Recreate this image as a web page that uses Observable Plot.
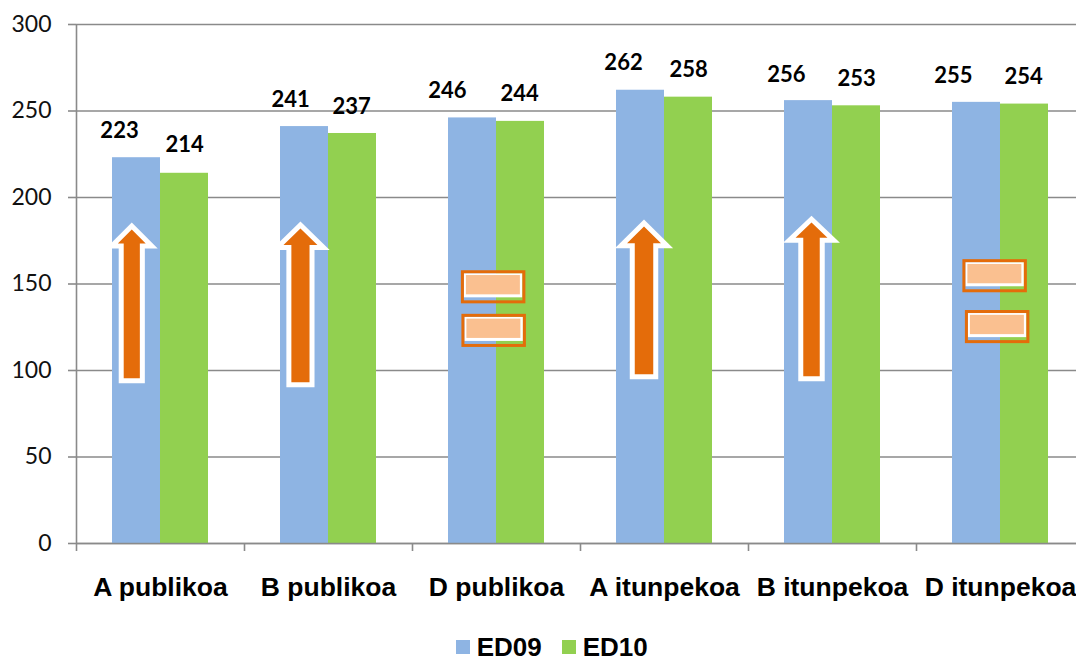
<!DOCTYPE html>
<html>
<head>
<meta charset="utf-8">
<script src="https://cdn.jsdelivr.net/npm/d3@7"></script>
<script src="https://cdn.jsdelivr.net/npm/@observablehq/plot@0.6"></script>
<style>
html,body{margin:0;padding:0;background:#fff;overflow:hidden}
#legend{position:relative;height:35px;font:bold 26px/20px "Liberation Sans",Arial,sans-serif;color:#000;white-space:nowrap}
#legend i{position:absolute;top:15.2px;width:14px;height:14px}
#legend span{position:absolute;top:12px}
</style>
</head>
<body>
<div id="chart"></div>
<div id="legend"></div>
<script>
const categories = ["A publikoa","B publikoa","D publikoa","A itunpekoa","B itunpekoa","D itunpekoa"];
const ed09 = [223,241,246,262,256,255];
const ed10 = [214,237,244,258,253,254];
const yTicks = [0,50,100,150,200,250,300];

// hand-placed value labels, in axis units
const labelX09 = [0.256,1.274,2.208,3.256,4.226,5.220];
const labelY09 = [238.7,256.1,261.3,278.0,271.1,270.5];
const labelX10 = [0.643,1.637,2.637,3.643,4.643,5.637];
const labelY10 = [230.1,252.6,260.1,274.0,268.8,269.9];

// up arrows, in axis units
const arrowX = [0.329,1.333,3.378,4.375];
const arrowBase = [95.5,93.2,97.8,96.7];
const arrowNeck = [173.4,172.5,173.5,176.7];
const arrowTip = [181.5,182.1,183.2,185.5];
const arrowShaft = [0.048,0.054,0.055,0.049];
const arrowHead = [0.083,0.101,0.101,0.095];

// "equal" signs, in axis units
const equalX = [2.483,2.486,5.468,5.483];
const equalY = [148.1,122.9,154.5,125.1];
const equalW = 0.183, equalH = 8.7;

const blue = "#8EB4E3", green = "#92D050", orange = "#E46C0A", peach = "#FAC090", grey = "#8A8A8A";
const axisFont = "Lato, Carlito, sans-serif", catFont = "'Liberation Sans', Arial, sans-serif";

const bars09 = categories.map((c,i)=>({x1:i+0.2143,x2:i+0.5,v:ed09[i]}));
const bars10 = categories.map((c,i)=>({x1:i+0.5,x2:i+0.7857,v:ed10[i]}));
const labels = [
  ...ed09.map((v,i)=>({x:labelX09[i],y:labelY09[i],v})),
  ...ed10.map((v,i)=>({x:labelX10[i],y:labelY10[i],v}))
];
const arrowRows = arrowX.flatMap((cx,i)=>{
  const s=arrowShaft[i],h=arrowHead[i],b=arrowBase[i],n=arrowNeck[i],t=arrowTip[i];
  return [[cx,b],[cx+s,b],[cx+s,n],[cx+h,n],[cx,t],[cx-h,n],[cx-s,n],[cx-s,b],[cx,b]]
    .map(([x,y])=>({id:i,x,y}));
});
const equals = equalX.map((x,i)=>({x1:x-equalW,x2:x+equalW,y1:equalY[i]-equalH,y2:equalY[i]+equalH}));

const plot = Plot.plot({
  width:1076,height:625,
  marginLeft:76,marginRight:0,marginTop:24,marginBottom:82,
  style:{background:"#fff",overflow:"hidden"},
  x:{type:"linear",domain:[0,6],range:[76,1084]},
  y:{domain:[0,300],range:[543,24]},
  marks:[
    Plot.ruleY(yTicks,{x1:0,x2:6,stroke:grey,strokeWidth:1.6}),
    Plot.rect(bars09,{x1:"x1",x2:"x2",y1:0,y2:"v",fill:blue}),
    Plot.rect(bars10,{x1:"x1",x2:"x2",y1:0,y2:"v",fill:green}),
    Plot.ruleX([0],{y1:0,y2:300,stroke:grey,strokeWidth:1.6}),
    Plot.ruleY([0],{x1:0,x2:6,stroke:grey,strokeWidth:1.6}),
    Plot.axisY({ticks:yTicks,tickSize:8,tickPadding:17,stroke:grey,fill:"#111",strokeWidth:1.6,
      fontFamily:axisFont,fontSize:23,label:null,tickFormat:d=>String(d)}),
    Plot.axisX({ticks:d3.range(0,7),tickSize:8,tickFormat:()=>"",stroke:grey,strokeWidth:1.6,label:null}),
    Plot.text(categories,{x:(d,i)=>i+0.5,y:-25.5,text:d=>d,fontFamily:catFont,fontWeight:"bold",fontSize:26.5,
      fill:"#000",clip:false}),
    Plot.line(arrowRows,{x:"x",y:"y",z:"id",fill:orange,stroke:"#fff",strokeWidth:10,paintOrder:"stroke",
      strokeLinejoin:"miter",strokeLinecap:"butt",strokeMiterlimit:10}),
    Plot.rect(equals,{x1:"x1",x2:"x2",y1:"y1",y2:"y2",fill:"#fff",insetLeft:1.5,insetRight:1.5,insetTop:1.5,insetBottom:4.5}),
    Plot.rect(equals,{x1:"x1",x2:"x2",y1:"y1",y2:"y2",fill:peach,insetLeft:3.5,insetRight:4,insetTop:3.3,insetBottom:7.5}),
    Plot.rect(equals,{x1:"x1",x2:"x2",y1:"y1",y2:"y2",fill:"none",stroke:orange,strokeWidth:3}),
    Plot.text(labels,{x:"x",y:"y",text:d=>String(d.v),fontFamily:axisFont,fontWeight:"bold",fontSize:22,fill:"#000"})
  ]
});
document.getElementById("chart").appendChild(plot);
plot.style.display="block";

const series = [["ED09",blue,456,476.7],["ED10",green,562.3,582.7]];
const lg = document.getElementById("legend");
for (const [name,color,sx,tx] of series){
  const i=document.createElement("i");i.style.left=sx+"px";i.style.background=color;lg.appendChild(i);
  const s=document.createElement("span");s.style.left=tx+"px";s.textContent=name;lg.appendChild(s);
}
</script>
</body>
</html>
